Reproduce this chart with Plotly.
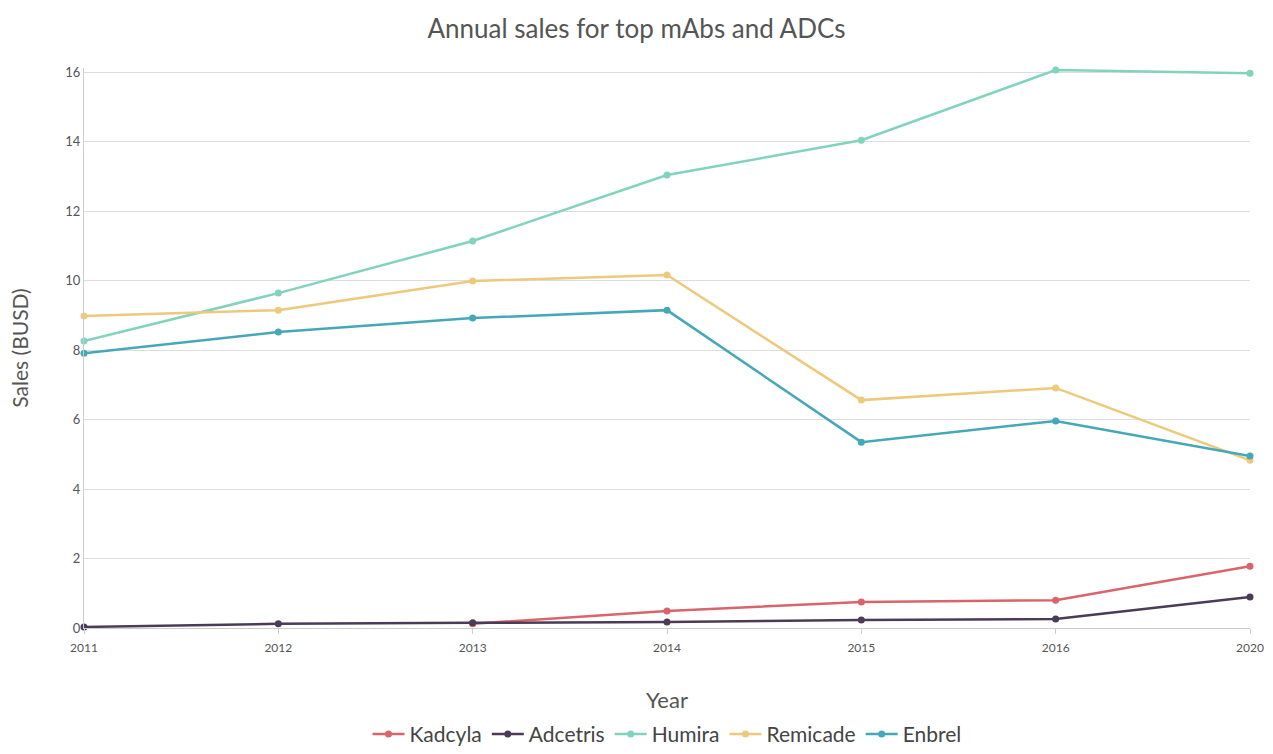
import plotly.graph_objects as go

years = ["2011", "2012", "2013", "2014", "2015", "2016", "2020"]
kadcyla = [None, None, 0.12, 0.49, 0.75, 0.8, 1.78]
adcetris = [0.03, 0.12, 0.15, 0.17, 0.23, 0.26, 0.89]
humira = [8.26, 9.64, 11.14, 13.04, 14.04, 16.06, 15.97]
remicade = [8.98, 9.15, 9.99, 10.16, 6.56, 6.91, 4.83]
enbrel = [7.91, 8.52, 8.92, 9.15, 5.35, 5.96, 4.95]

series = [
    ("Kadcyla", kadcyla, "#d9646b"),
    ("Adcetris", adcetris, "#4b3b56"),
    ("Humira", humira, "#82d3bb"),
    ("Remicade", remicade, "#ecc97b"),
    ("Enbrel", enbrel, "#45a8b8"),
]

fig = go.Figure()
for name, vals, col in series:
    fig.add_trace(go.Scatter(
        x=years, y=vals, name=name, mode="lines+markers",
        line=dict(color=col, width=2.5),
        marker=dict(color=col, size=7),
        cliponaxis=False,
    ))

font = "Lato, 'Open Sans', sans-serif"
fig.update_layout(
    width=1273, height=754,
    margin=dict(l=84, r=23, t=68, b=126, autoexpand=False),
    paper_bgcolor="white", plot_bgcolor="white",
    font=dict(family=font, color="#555555"),
    title=dict(text="Annual sales for top mAbs and ADCs", x=0.5, xanchor="center",
               y=0.962, yanchor="middle", font=dict(size=26, color="#555555")),
    showlegend=True,
    legend=dict(orientation="h", x=0.5, xanchor="center", y=-0.2266, yanchor="bottom",
                font=dict(size=21, color="#444444"), itemwidth=32, tracegroupgap=0,
                borderwidth=0),
    xaxis=dict(type="category", range=[0, 6], showgrid=False, showline=True,
               automargin=False,
               linecolor="#cccccc", ticks="outside", ticklen=5, tickcolor="#cccccc",
               ticklabelstandoff=4,
               tickfont=dict(size=12, color="#555555"),
               title=dict(text="Year", font=dict(size=22, color="#555555"), standoff=38)),
    yaxis=dict(range=[0, 16.12], tickvals=[0, 2, 4, 6, 8, 10, 12, 14, 16],
               automargin=False,
               showgrid=True, gridcolor="#dddddd",
               showline=True, linecolor="#cccccc", zeroline=False,
               ticks="", tickfont=dict(size=13, color="#555555"),
               title=dict(text="Sales (BUSD)", font=dict(size=21, color="#555555"), standoff=30)),
)

fig.write_html("out.html")
